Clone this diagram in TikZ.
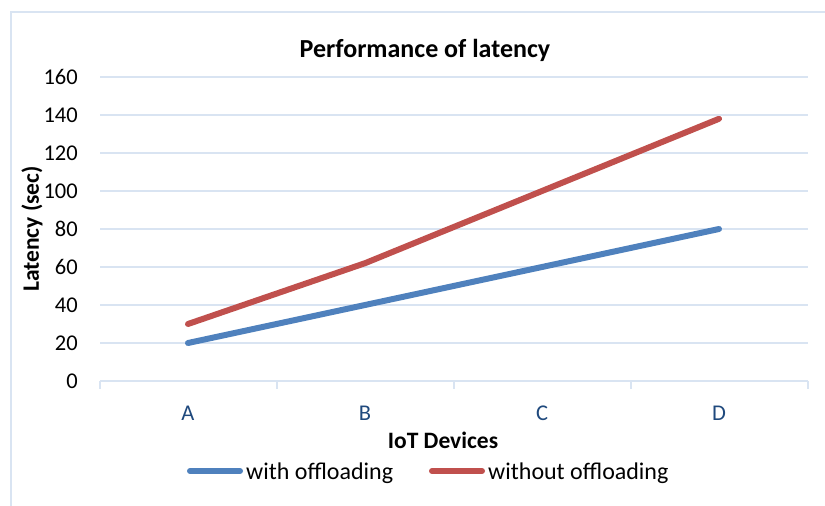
\documentclass[tikz,border=0pt]{standalone}
\usepackage{fontspec}
\setmainfont{Carlito}
\definecolor{gridc}{RGB}{217,228,242}
\definecolor{serblue}{RGB}{79,129,189}
\definecolor{serred}{RGB}{192,80,77}
\definecolor{catc}{RGB}{31,73,125}
\begin{document}
\begin{tikzpicture}[x=1pt,y=-1pt,
  grid/.style={draw=gridc,line width=1.5pt},
  ticklbl/.style={anchor=east,font=\fontsize{22.5}{26}\selectfont,inner sep=0pt},
  catlbl/.style={font=\fontsize{22.5}{26}\selectfont,text=catc,inner sep=0pt},
  boldlbl/.style={font=\bfseries\fontsize{23.5}{27}\selectfont,inner sep=0pt},
  titlelbl/.style={font=\bfseries\fontsize{26}{30}\selectfont,inner sep=0pt},
  leglbl/.style={anchor=west,font=\fontsize{24}{28}\selectfont,inner sep=0pt},
  serieswith/.style={draw=serblue,line width=6pt,line cap=round,line join=round},
  serieswithout/.style={draw=serred,line width=6pt,line cap=round,line join=round}]
\useasboundingbox (0,0) rectangle (825,506);
% frame
\draw[gridc,line width=1.5pt] (11,506) -- (11,12) -- (825,12);
% gridlines and y ticks
\foreach \v in {20,40,...,160}{
  \draw[grid] (100,{381-1.9*\v}) -- (808,{381-1.9*\v});
}
\foreach \v in {0,20,...,160}{
  \node[ticklbl] (yt\v) at (78,{381-1.9*\v}) {\v};
}
% x axis
\draw[grid] (100,381) -- (808,381);
\foreach \x in {100,277,454,631,808}{
  \draw[grid] (\x,381) -- (\x,389);
}
\node[catlbl] (cA) at (188,413) {A};
\node[catlbl] (cB) at (365,413) {B};
\node[catlbl] (cC) at (542,413) {C};
\node[catlbl] (cD) at (719,413) {D};
% titles
\node[titlelbl] (title) at (425,50) {Performance of latency};
\node[boldlbl,rotate=90] (ylab) at (32,229) {Latency (sec)};
\node[boldlbl] (xlab) at (443,440) {IoT Devices};
% data
\coordinate (wA) at (188,{381-1.9*20});
\coordinate (wB) at (365,{381-1.9*40});
\coordinate (wC) at (542,{381-1.9*60});
\coordinate (wD) at (719,{381-1.9*80});
\coordinate (oA) at (188,{381-1.9*30});
\coordinate (oB) at (365,{381-1.9*62});
\coordinate (oC) at (542,{381-1.9*100});
\coordinate (oD) at (719,{381-1.9*138});
\draw[serieswith] (wA) -- (wB) -- (wC) -- (wD);
\draw[serieswithout] (oA) -- (oB) -- (oC) -- (oD);
% legend
\coordinate (l1a) at (190,471);
\coordinate (l1b) at (240,471);
\coordinate (l2a) at (432,471);
\coordinate (l2b) at (482,471);
\draw[serieswith] (l1a) -- (l1b);
\draw[serieswithout] (l2a) -- (l2b);
\node[leglbl] (leg1) at (246,473) {with offloading};
\node[leglbl] (leg2) at (488,473) {without offloading};
\end{tikzpicture}
\end{document}
